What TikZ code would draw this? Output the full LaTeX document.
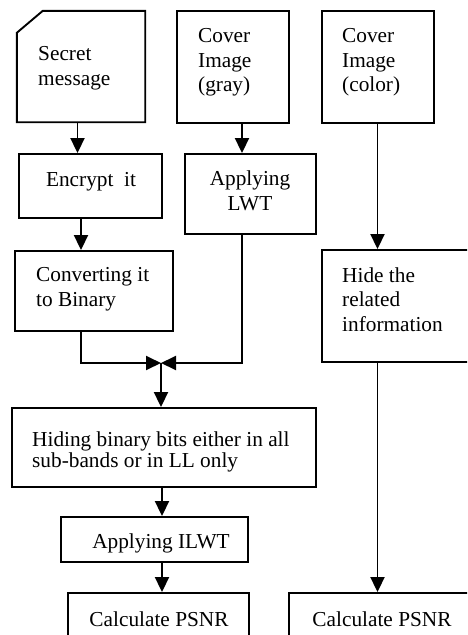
\documentclass[tikz,border=0pt]{standalone}
\usepackage{fontspec}
\setmainfont{Liberation Serif}
\usetikzlibrary{arrows.meta}
\begin{document}
\begin{tikzpicture}[x=1pt,y=-1pt,
  box/.style={draw,line width=1.9pt,inner sep=0pt},
  shapebox/.style={inner sep=0pt},
  txt/.style={inner sep=0pt,align=left,font=\fontsize{21.3}{24.5}\selectfont},
  arr/.style={line width=1.9pt,-{Triangle[width=14pt,length=15pt]}}]
\clip (0,0) rectangle (467,635);
% boxes
\node[shapebox,minimum width=128pt,minimum height=111pt] (secret) at (81,66.5) {};
\draw[line width=1.9pt] ([yshift=-22pt]secret.north west) -- ([xshift=26pt]secret.north west)
  -- (secret.north east) -- (secret.south east) -- (secret.south west) -- cycle;
\node[box,minimum width=112pt,minimum height=112pt] (gray) at (233,67) {};
\node[box,minimum width=112pt,minimum height=112pt] (color) at (378,67) {};
\node[box,minimum width=143pt,minimum height=64pt] (encrypt) at (90.5,186) {};
\node[box,minimum width=131pt,minimum height=80pt] (lwt) at (250.5,194) {};
\node[box,minimum width=158pt,minimum height=80pt] (conv) at (94,291) {};
\node[box,minimum width=158pt,minimum height=112pt] (hide) at (401,306) {};
\node[box,minimum width=304pt,minimum height=79pt] (hiding) at (164,447.5) {};
\node[box,minimum width=187pt,minimum height=45pt] (ilwt) at (154.5,539.5) {};
\node[box,minimum width=181pt,minimum height=67pt] (calcL) at (158.5,626.5) {};
\node[box,minimum width=191pt,minimum height=67pt] (calcR) at (384.5,626.5) {};
% texts (base anchor = baseline of the last line)
\node[txt,anchor=base west] (tsecret) at (38,85) {Secret\\message};
\node[txt,anchor=base west] (tgray) at (198,91.7) {Cover\\Image\\(gray)};
\node[txt,anchor=base west] (tcolor) at (342,91.7) {Cover\\Image\\(color)};
\node[txt,anchor=base] (tenc) at (91,186.7) {Encrypt\ \ it};
\node[txt,anchor=base,align=center,font=\fontsize{21.3}{25.5}\selectfont] (tlwt) at (250,210.5) {Applying\\LWT};
\node[txt,anchor=base west,font=\fontsize{21.3}{25}\selectfont] (tconv) at (36,306.7) {Converting it\\to Binary};
\node[txt,anchor=base west,font=\fontsize{21.3}{24.8}\selectfont] (thide) at (342,331.6) {Hide the\\related\\information};
\node[txt,anchor=base west,font=\fontsize{21.3}{19}\selectfont] (thiding) at (32,467.3) {Hiding binary bits either in all\\sub-bands or in LL only};
\node[txt,anchor=base] (tilwt) at (161,548.3) {Applying ILWT};
\node[txt,anchor=base] (tcalcL) at (159,626) {Calculate PSNR};
\node[txt,anchor=base] (tcalcR) at (382,626) {Calculate PSNR};
% connector positions
\coordinate (xa) at (77.5,0);
\coordinate (xb) at (81,0);
\coordinate (xc) at (242,0);
\coordinate (xd) at (162,0);
\coordinate (xe) at (377.5,0);
\coordinate (m) at (161,363);
% connectors
\draw[arr] (xa |- secret.south) -- (xa |- encrypt.north);
\draw[arr] (xb |- encrypt.south) -- (xb |- conv.north);
\draw[arr] (xc |- gray.south) -- (xc |- lwt.north);
\draw[arr] (xe |- color.south) -- (xe |- hide.north);
\draw[arr] (xb |- conv.south) |- (m);
\draw[arr] (xc |- lwt.south) |- (m);
\draw[arr] (m) -- (m |- hiding.north);
\draw[arr] (xd |- hiding.south) -- (xd |- ilwt.north);
\draw[arr] (xd |- ilwt.south) -- (xd |- calcL.north);
\draw[arr] (xe |- hide.south) -- (xe |- calcR.north);
\end{tikzpicture}
\end{document}
